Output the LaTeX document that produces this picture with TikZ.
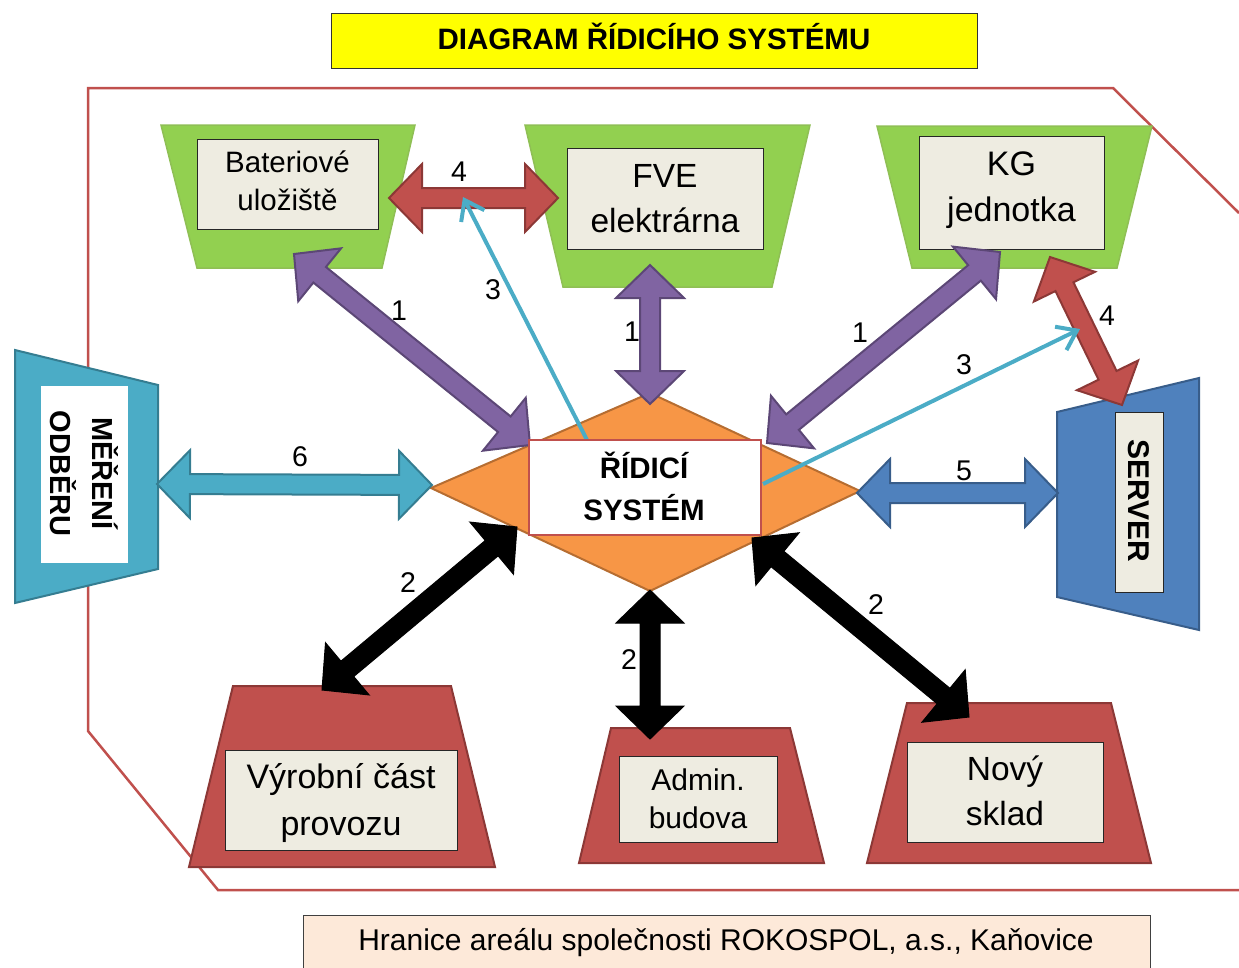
\documentclass[tikz,border=0pt]{standalone}
\usepackage{fontspec}
\setmainfont{Liberation Sans}
\usetikzlibrary{calc,arrows.meta}

\definecolor{grnF}{HTML}{92D050}
\definecolor{grnD}{HTML}{8FBF55}
\definecolor{redF}{HTML}{C0504D}
\definecolor{redD}{HTML}{8C3836}
\definecolor{purF}{HTML}{8064A2}
\definecolor{purD}{HTML}{5C4776}
\definecolor{bluF}{HTML}{4F81BD}
\definecolor{bluD}{HTML}{385D8A}
\definecolor{cyaF}{HTML}{4BACC6}
\definecolor{cyaD}{HTML}{357D91}
\definecolor{oraF}{HTML}{F79646}
\definecolor{oraD}{HTML}{B66D31}
\definecolor{boxF}{HTML}{EEECE1}
\definecolor{peach}{HTML}{FDE9D9}
\definecolor{ttlY}{HTML}{FFFF00}

% double block arrow between two named coordinates
\newcommand{\dblarr}[3]{%
  \coordinate (da1) at ($(#1)!33pt!(#2)$);
  \coordinate (da2) at ($(#2)!33pt!(#1)$);
  \draw[#3] (#1) -- ($(da1)!34pt!90:(#2)$) -- ($(da1)!10pt!90:(#2)$)
    -- ($(da2)!10pt!-90:(#1)$) -- ($(da2)!34pt!-90:(#1)$) -- (#2)
    -- ($(da2)!34pt!90:(#1)$) -- ($(da2)!10pt!90:(#1)$)
    -- ($(da1)!10pt!-90:(#2)$) -- ($(da1)!34pt!-90:(#2)$) -- cycle;
}

\tikzset{
  bnd/.style={draw=redF, line width=2.5pt},
  grnshape/.style={fill=grnF, draw=grnD, line width=1.5pt},
  redshape/.style={fill=redF, draw=redD, line width=2pt},
  ibox/.style={fill=boxF, draw=black!85, line width=1pt, inner sep=0pt},
  txt/.style={inner sep=0pt, align=center, anchor=base},
  num/.style={inner sep=0pt, font=\fontsize{28.5}{30}\selectfont},
  purA/.style={fill=purF, draw=purD, line width=2pt},
  redA/.style={fill=redF, draw=redD, line width=2pt},
  bluA/.style={fill=bluF, draw=bluD, line width=2pt},
  cyaA/.style={fill=cyaF, draw=cyaD, line width=2pt},
  blkA/.style={fill=black, draw=black, line width=1pt},
  thin3/.style={draw=cyaF, line width=4pt, -{Straight Barb[length=18pt,width=26pt]}},
}

\begin{document}
\begin{tikzpicture}[x=1pt,y=-1pt]
\useasboundingbox (0,0) rectangle (1239,967);

% boundary of the site
\draw[bnd] (1239,213) -- (1113,88) -- (88,88) -- (88,731) -- (218,890) -- (1239,890);

% title
\node[fill=ttlY, draw=black!80, line width=1pt, minimum width=646pt, minimum height=55pt, inner sep=0pt] (title) at (654,40.5) {};
\node[txt, font=\bfseries\fontsize{29.5}{34}\selectfont] (titletxt) at (654,49) {DIAGRAM ŘÍDICÍHO SYSTÉMU};

% bottom label
\node[fill=peach, draw=black!75, line width=1pt, minimum width=847pt, minimum height=56pt, inner sep=0pt] (hranice) at (726.5,943) {};
\node[txt, font=\fontsize{30}{34}\selectfont] (hranicetxt) at (726,950) {Hranice areálu společnosti ROKOSPOL, a.s., Kaňovice};

% green sources
\draw[grnshape] (161,125) -- (415,125) -- (382,268) -- (197,268) -- cycle;
\draw[grnshape] (525,125) -- (810,125) -- (772,287) -- (563,287) -- cycle;
\draw[grnshape] (877,126) -- (1152,126) -- (1117,268) -- (912,268) -- cycle;
\node[ibox, minimum width=181pt, minimum height=90pt] (bat) at (287.5,184) {};
\node[ibox, minimum width=196pt, minimum height=101pt] (fve) at (665,198.5) {};
\node[ibox, minimum width=185pt, minimum height=113pt] (kg) at (1011.5,192.5) {};

% red consumers
\draw[redshape] (233,686) -- (451,686) -- (495,867) -- (189,867) -- cycle;
\draw[redshape] (611,728) -- (790,728) -- (824,863) -- (579,863) -- cycle;
\draw[redshape] (907,703) -- (1111,703) -- (1151,863) -- (867,863) -- cycle;
\node[ibox, minimum width=232pt, minimum height=100pt] (vyr) at (341,800) {};
\node[ibox, minimum width=158pt, minimum height=86pt] (adm) at (698,799) {};
\node[ibox, minimum width=196pt, minimum height=100pt] (novy) at (1005,792) {};

% metering
\draw[fill=cyaF, draw=cyaD, line width=2pt] (15,350) -- (158,385) -- (158,569) -- (15,603) -- cycle;
\node[fill=white, minimum width=87pt, minimum height=177pt, inner sep=0pt] (mer) at (84.5,474.5) {};

% server
\draw[fill=bluF, draw=bluD, line width=2pt] (1057,412) -- (1199,378) -- (1199,630) -- (1057,597) -- cycle;
\node[ibox, minimum width=48pt, minimum height=180pt] (srv) at (1139,502) {};

% central diamond
\draw[fill=oraF, draw=oraD, line width=2pt] (431,488) -- (650,393) -- (860,491) -- (650,591) -- cycle;

% arrow tips
\coordinate (t1a) at (294,254);  \coordinate (t1b) at (530,445);
\coordinate (t2a) at (650,265);  \coordinate (t2b) at (650,404);
\coordinate (t3a) at (767,443);  \coordinate (t3b) at (1000,252);
\coordinate (t4a) at (389,198);  \coordinate (t4b) at (558,198);
\coordinate (t5a) at (1050,257); \coordinate (t5b) at (1122,405);
\coordinate (t6a) at (157,484);  \coordinate (t6b) at (432,485);
\coordinate (t7a) at (857,493);  \coordinate (t7b) at (1058,493);
\coordinate (t8a) at (517,527);  \coordinate (t8b) at (322,690);
\coordinate (t9a) at (650,590);  \coordinate (t9b) at (650,739);
\coordinate (t10a) at (752,538); \coordinate (t10b) at (969,717);
\coordinate (c1a) at (587,440);  \coordinate (c1b) at (463,197);
\coordinate (c2a) at (763,484);  \coordinate (c2b) at (1080,329);

\dblarr{t1a}{t1b}{purA}
\dblarr{t2a}{t2b}{purA}
\dblarr{t3a}{t3b}{purA}
\dblarr{t4a}{t4b}{redA}
\dblarr{t5a}{t5b}{redA}
\dblarr{t6a}{t6b}{cyaA}
\dblarr{t7a}{t7b}{bluA}
\dblarr{t8a}{t8b}{blkA}
\dblarr{t9a}{t9b}{blkA}
\dblarr{t10a}{t10b}{blkA}

\draw[thin3] (c1a) -- (c1b);
\draw[thin3] (c2a) -- (c2b);

% control system box
\node[fill=white, draw=redF, line width=2.5pt, minimum width=232pt, minimum height=95pt, inner sep=0pt] (ridic) at (645,487.5) {};

% texts (anchor = baseline of the last line)
\node[txt, font=\fontsize{29.5}{38}\selectfont] (battxt) at (287.5,210) {Bateriové\\uložiště};
\node[txt, font=\fontsize{33.5}{45}\selectfont] (fvetxt) at (665,232) {FVE\\elektrárna};
\node[txt, font=\fontsize{34}{46}\selectfont] (kgtxt) at (1011.5,221) {KG\\jednotka};
\node[txt, font=\fontsize{34}{47}\selectfont] (vyrtxt) at (341,835) {Výrobní část\\provozu};
\node[txt, font=\fontsize{30}{38}\selectfont] (admtxt) at (698,828) {Admin.\\budova};
\node[txt, font=\fontsize{33.5}{45}\selectfont] (novytxt) at (1005,825) {Nový\\sklad};
\node[txt, font=\bfseries\fontsize{29.5}{42}\selectfont] (ridictxt) at (644,520) {ŘÍDICÍ\\SYSTÉM};
\node[txt, rotate=-90, font=\bfseries\fontsize{29}{42}\selectfont] (mertxt) at (50,473.5) {MĚŘENÍ\\ODBĚRU};
\node[txt, rotate=-90, font=\bfseries\fontsize{30}{34}\selectfont] (srvtxt) at (1128,501) {SERVER};

% connection numbers
\node[num] (n4a) at (459,172) {4};
\node[num] (n1a) at (399,311) {1};
\node[num] (n3a) at (493,290) {3};
\node[num] (n1b) at (632,332) {1};
\node[num] (n1c) at (860,333) {1};
\node[num] (n3b) at (964,365) {3};
\node[num] (n4b) at (1107,316) {4};
\node[num] (n6) at (300,457) {6};
\node[num] (n5) at (964,471) {5};
\node[num] (n2a) at (408,583) {2};
\node[num] (n2b) at (629,660) {2};
\node[num] (n2c) at (876,605) {2};
\end{tikzpicture}
\end{document}
